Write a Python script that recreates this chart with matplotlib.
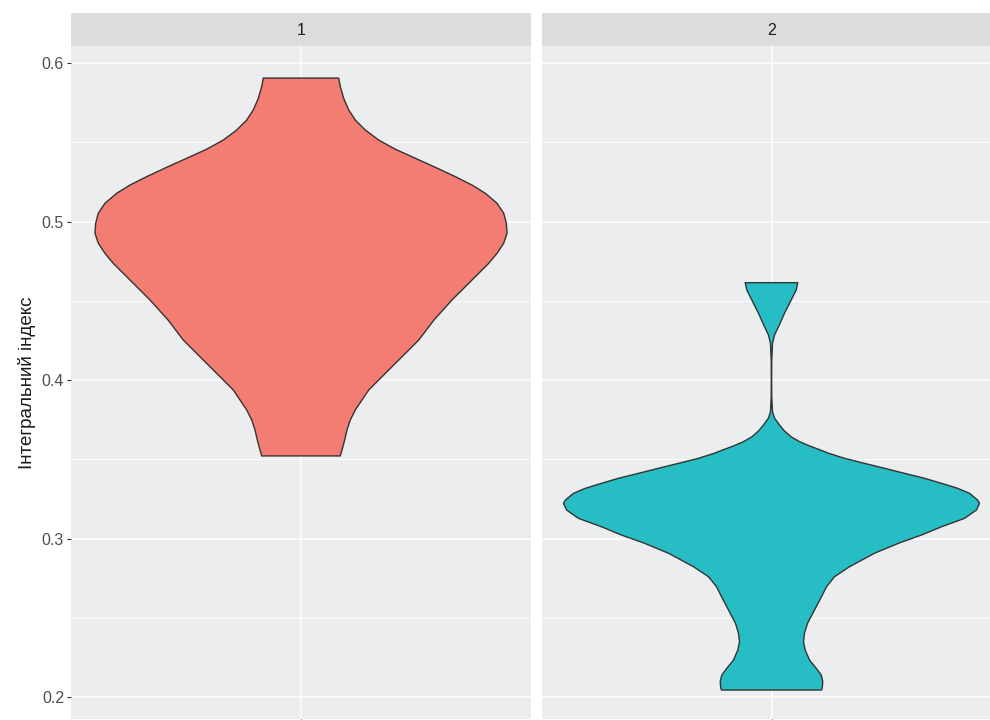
import numpy as np
import matplotlib.pyplot as plt
from matplotlib.ticker import MultipleLocator

plt.rcParams['font.family'] = ['Liberation Sans', 'DejaVu Sans']

# density outline of each group: index level and half-width of the violin
y_grp1 = [0.5905, 0.5851, 0.5777, 0.5704, 0.5640, 0.5577, 0.5514, 0.5456,
          0.5399, 0.5342, 0.5283, 0.5230, 0.5178, 0.5115, 0.5052, 0.4989,
          0.4926, 0.4863, 0.4799, 0.4736, 0.4631, 0.4505, 0.4379, 0.4252,
          0.4126, 0.4000, 0.3937, 0.3874, 0.3811, 0.3748, 0.3685, 0.3622,
          0.3558, 0.3521]
w_grp1 = [0.0811, 0.0846, 0.0919, 0.1027, 0.1169, 0.1384, 0.1672, 0.2030,
          0.2460, 0.2891, 0.3321, 0.3681, 0.3967, 0.4219, 0.4363, 0.4419,
          0.4434, 0.4363, 0.4219, 0.4040, 0.3681, 0.3250, 0.2863, 0.2533,
          0.2103, 0.1672, 0.1457, 0.1313, 0.1169, 0.1061, 0.0990, 0.0941,
          0.0882, 0.0846]

y_grp2 = [0.4614, 0.4568, 0.4505, 0.4421, 0.4336, 0.4284, 0.4231, 0.4126,
          0.4000, 0.3895, 0.3800, 0.3760, 0.3716, 0.3678, 0.3640, 0.3611,
          0.3584, 0.3558, 0.3538, 0.3506, 0.3474, 0.3443, 0.3411, 0.3380,
          0.3348, 0.3317, 0.3285, 0.3243, 0.3222, 0.3180, 0.3127, 0.3074,
          0.3022, 0.2970, 0.2907, 0.2822, 0.2759, 0.2696, 0.2633, 0.2549,
          0.2465, 0.2402, 0.2349, 0.2297, 0.2233, 0.2181, 0.2139, 0.2097,
          0.2055, 0.2044]
w_grp2 = [0.0566, 0.0532, 0.0424, 0.0280, 0.0151, 0.0065, 0.0022, 0.0006,
          0.0004, 0.0006, 0.0022, 0.0065, 0.0172, 0.0280, 0.0430, 0.0603,
          0.0818, 0.1055, 0.1227, 0.1571, 0.2002, 0.2432, 0.2863, 0.3293,
          0.3659, 0.4003, 0.4262, 0.4434, 0.4477, 0.4412, 0.4154, 0.3659,
          0.3229, 0.2734, 0.2217, 0.1679, 0.1356, 0.1184, 0.1076, 0.0926,
          0.0775, 0.0710, 0.0689, 0.0725, 0.0818, 0.0962, 0.1070, 0.1104,
          0.1091, 0.1076]

groups = ['1', '2']
levels = [y_grp1, y_grp2]
widths = [w_grp1, w_grp2]
colors = ['#F37C73', '#26BDC4']

W, H = 990, 720
fig = plt.figure(figsize=(W / 100, H / 100), dpi=100)
fig.patch.set_facecolor('white')

panel_left = [71, 541.5]
panel_w = 460
panel_top, panel_bot = 46, 719
strip_top = 13

for i, g in enumerate(groups):
    x0 = panel_left[i] / W
    ax = fig.add_axes([x0, (H - panel_bot) / H, panel_w / W,
                       (panel_bot - panel_top) / H])
    ax.set_facecolor('#ECEDEF')
    for s in ax.spines.values():
        s.set_visible(False)
    ax.set_xlim(-0.495, 0.495)
    ax.set_ylim(0.18612, 0.61073)
    ax.yaxis.set_major_locator(MultipleLocator(0.1))
    ax.yaxis.set_minor_locator(MultipleLocator(0.05))
    ax.set_xticks([0])
    ax.set_xticklabels([''])
    ax.grid(True, which='major', color='white', linewidth=1.1)
    ax.grid(True, which='minor', axis='y', color='white', linewidth=0.55)
    ax.set_axisbelow(True)
    ax.tick_params(axis='x', length=3, color='#333333')
    ax.tick_params(axis='y', which='major', length=3, color='#333333',
                   labelsize=11.5, labelcolor='#4D4D4D', pad=2)
    ax.tick_params(axis='y', which='minor', length=0)
    if i == 0:
        ax.set_ylabel('Інтегральний індекс', fontsize=13.5, color='#1A1A1A',
                      labelpad=4)
    else:
        ax.tick_params(axis='y', which='major', length=0, labelleft=False)

    y = np.array(levels[i])
    w = np.array(widths[i])
    xs = np.concatenate([-w, w[::-1], [-w[0]]])
    ys = np.concatenate([y, y[::-1], [y[0]]])
    ax.fill(xs, ys, facecolor=colors[i], edgecolor='#333333', linewidth=1.0,
            joinstyle='round', zorder=3)

    # facet strip
    sax = fig.add_axes([x0, (H - panel_top) / H, panel_w / W,
                        (panel_top - strip_top) / H])
    sax.set_facecolor('#DCDCDC')
    sax.set_xticks([])
    sax.set_yticks([])
    for s in sax.spines.values():
        s.set_visible(False)
    sax.text(0.5, 0.48, g, ha='center', va='center', fontsize=11.5,
             color='#1A1A1A', transform=sax.transAxes)

fig.savefig('out.png', dpi=100)
